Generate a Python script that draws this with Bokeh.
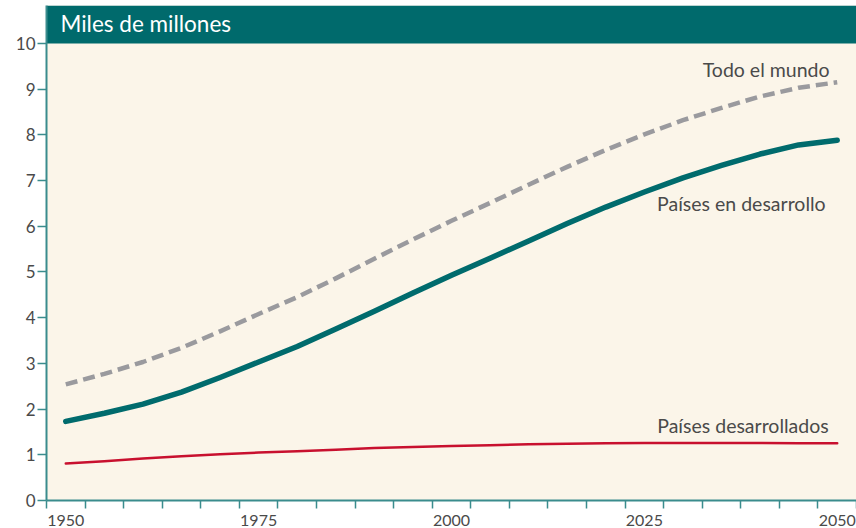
from bokeh.plotting import figure
from bokeh.models import (Range1d, FixedTicker, BoxAnnotation, Label, ColumnDataSource)
from bokeh.embed import file_html
from bokeh.resources import INLINE

# Data (billions of people)
years = [1950, 1955, 1960, 1965, 1970, 1975, 1980, 1985, 1990, 1995, 2000,
         2005, 2010, 2015, 2020, 2025, 2030, 2035, 2040, 2045, 2050]
world = [2.54, 2.77, 3.03, 3.34, 3.70, 4.08, 4.45, 4.86, 5.29, 5.71, 6.12,
         6.51, 6.91, 7.30, 7.67, 8.01, 8.32, 8.59, 8.84, 9.03, 9.15]
developing = [1.73, 1.91, 2.11, 2.37, 2.69, 3.03, 3.37, 3.75, 4.14, 4.54, 4.93,
              5.30, 5.68, 6.06, 6.42, 6.75, 7.06, 7.33, 7.58, 7.78, 7.88]
developed = [0.81, 0.86, 0.92, 0.97, 1.01, 1.05, 1.08, 1.11, 1.15, 1.17, 1.19,
             1.21, 1.23, 1.24, 1.25, 1.26, 1.26, 1.26, 1.26, 1.25, 1.25]
x_labels = [1950, 1975, 2000, 2025, 2050]
x_minor = [1947.5 + 5 * i for i in range(22)]
y_ticks = list(range(0, 11))
title_text = "Miles de millones"
series_names = ["Todo el mundo", "Países en desarrollo", "Países desarrollados"]

FONT = "Lato"
TEAL = "#006a6c"
AXIS = "#3a8c8d"
TXT = "#4a4a4a"

p = figure(width=856, height=528, output_backend="svg", toolbar_location=None,
           x_range=Range1d(1947.5, 2052.5), y_range=Range1d(0, 10.83),
           min_border_left=46, min_border_right=0, min_border_top=5,
           min_border_bottom=28)
p.background_fill_color = "#fbf5e9"
p.border_fill_color = "white"
p.outline_line_color = None
p.grid.visible = False

# header band
p.add_layout(BoxAnnotation(bottom=10, fill_color=TEAL, fill_alpha=1.0,
                           line_color=None, level="underlay"))
p.add_layout(Label(x=14, y=10.43, x_units="screen", text=title_text,
                   text_color="white", text_font=FONT, text_font_size="22.5px",
                   text_baseline="middle"))

src = ColumnDataSource(dict(year=years, world=world, dev=developing, devd=developed))
p.line("year", "world", source=src, line_color="#9a9a9e", line_width=4.5,
       line_dash="12 6", line_join="round")
p.line("year", "dev", source=src, line_color="#006b6d", line_width=5.5,
       line_cap="round", line_join="round")
p.line("year", "devd", source=src, line_color="#c8102e", line_width=2.5,
       line_cap="round", line_join="round")

for txt, yv, xv in zip(series_names, [9.43, 6.50, 1.64], [2049.0, 2048.5, 2048.9]):
    p.add_layout(Label(x=xv, y=yv, text=txt, text_align="right",
                       text_baseline="middle", text_color=TXT, text_font=FONT,
                       text_font_size="19.5px"))

# axes
xa = p.xaxis[0]
xa.ticker = FixedTicker(ticks=x_labels, minor_ticks=x_minor)
xa.major_tick_line_color = None
xa.major_tick_in = 0
xa.major_tick_out = 0
xa.minor_tick_in = 0
xa.minor_tick_out = 8
xa.minor_tick_line_color = AXIS
xa.minor_tick_line_width = 1.5
xa.axis_line_color = AXIS
xa.axis_line_width = 2
xa.major_label_text_font = FONT
xa.major_label_text_font_size = "16px"
xa.major_label_text_color = TXT
xa.major_label_standoff = 6

ya = p.yaxis[0]
ya.ticker = FixedTicker(ticks=y_ticks)
ya.minor_tick_line_color = None
ya.major_tick_in = 0
ya.major_tick_out = 9
ya.major_tick_line_color = AXIS
ya.major_tick_line_width = 1.5
ya.axis_line_color = AXIS
ya.axis_line_width = 2
ya.major_label_text_font = FONT
ya.major_label_text_font_size = "17px"
ya.major_label_text_color = TXT
ya.major_label_standoff = 2

open("out.html", "w").write(file_html(p, INLINE))
